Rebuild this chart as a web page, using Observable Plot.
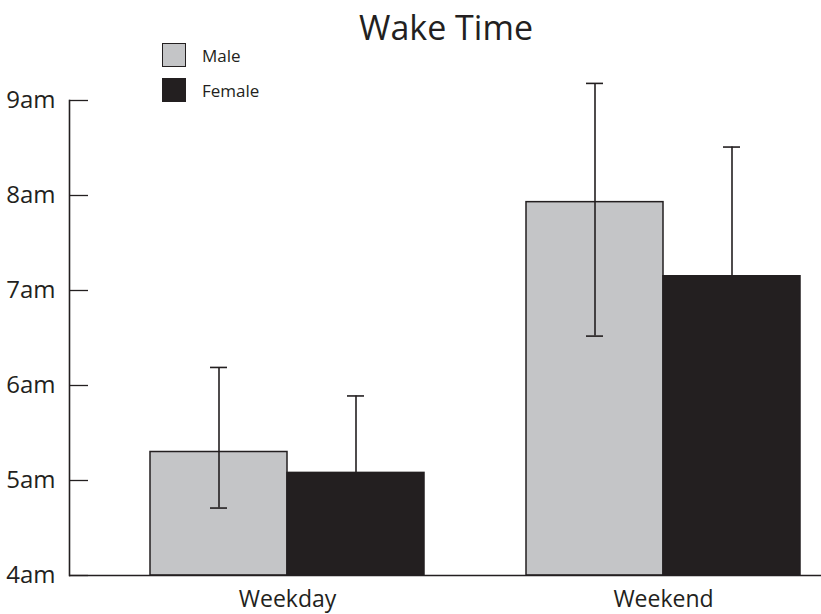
<!DOCTYPE html>
<html>
<head>
<meta charset="utf-8">
<script src="https://cdn.jsdelivr.net/npm/d3@7"></script>
<script src="https://cdn.jsdelivr.net/npm/@observablehq/plot@0.6"></script>
<style>
  html, body { margin: 0; padding: 0; background: #fff; }
  #wrap { position: relative; width: 821px; height: 614px; font-family: "Open Sans", sans-serif; color: #231f20; }
  #title { position: absolute; left: 0; width: 892px; top: 7px; text-align: center; font-size: 34px; line-height: 40px; }
  .leg { position: absolute; left: 162px; display: flex; align-items: center; font-size: 17px; }
  .sw { width: 24px; height: 24px; box-sizing: border-box; border: 1.6px solid #231f20; margin-right: 16px; }
</style>
</head>
<body>
<div id="wrap">
  <div id="chart"></div>
  <div id="title">Wake Time</div>
  <div class="leg" style="top:43px"><div class="sw" style="background:#c4c5c7"></div><span>Male</span></div>
  <div class="leg" style="top:78px"><div class="sw" style="background:#231f20"></div><span>Female</span></div>
</div>
<script>
const days = ["Weekday", "Weekend"];
const sexes = ["Male", "Female"];
const maleMean = [5.30, 7.93];
const femaleMean = [5.08, 7.15];
const maleHigh = [6.19, 9.18];
const femaleHigh = [5.89, 8.51];
const maleLow = [4.71, 6.52];
const femaleLow = [null, null]; // hidden behind the black bars
const yTicks = [4, 5, 6, 7, 8, 9];
const yTickLabels = ["4am", "5am", "6am", "7am", "8am", "9am"];
const colors = ["#c4c5c7", "#231f20"];

const rows = [];
days.forEach((day, i) => {
  rows.push({day, sex: sexes[0], mean: maleMean[i], high: maleHigh[i], low: maleLow[i]});
  rows.push({day, sex: sexes[1], mean: femaleMean[i], high: femaleHigh[i], low: femaleLow[i]});
});
const base = yTicks[0];
const ink = "#231f20";
const xInsetLeft = 81, xInsetRight = 21;

const chart = Plot.plot({
  width: 821,
  height: 614,
  marginLeft: 69,
  marginRight: 0,
  marginTop: 100,
  marginBottom: 39,
  style: {fontFamily: "Open Sans, sans-serif", color: ink, background: "white"},
  fx: {domain: days, padding: 0, label: null},
  x: {domain: sexes, padding: 0, insetLeft: xInsetLeft, insetRight: xInsetRight, axis: null},
  y: {domain: [yTicks[0], yTicks[yTicks.length - 1]], axis: null},
  color: {domain: sexes, range: colors},
  marks: [
    Plot.barY(rows, {fx: "day", x: "sex", y1: base, y2: "mean", fill: "sex", stroke: ink, strokeWidth: 1.5}),
    Plot.ruleX(rows, {fx: "day", x: "sex", y1: d => d.low ?? d.mean, y2: "high", stroke: ink, strokeWidth: 1.6}),
    Plot.tickY(rows, {fx: "day", x: "sex", y: "high", stroke: ink, strokeWidth: 1.6, inset: 60}),
    Plot.tickY(rows.filter(d => d.low != null), {fx: "day", x: "sex", y: "low", stroke: ink, strokeWidth: 1.6, inset: 60}),
    Plot.ruleY([base], {stroke: ink, strokeWidth: 1.6}),
    Plot.frame({anchor: "left", facetAnchor: "left", stroke: ink, strokeWidth: 1.6}),
    Plot.axisY({anchor: "left", ticks: yTicks, tickFormat: d => yTickLabels[yTicks.indexOf(d)], tickSize: -19, tickPadding: 33, fontSize: 24, stroke: ink, strokeWidth: 1.3, label: null}),
    Plot.axisFx({anchor: "bottom", tickSize: 0, tickPadding: 15, fontSize: 23, dx: (xInsetLeft - xInsetRight) / 2, label: null})
  ]
});
document.getElementById("chart").appendChild(chart);
</script>
</body>
</html>
